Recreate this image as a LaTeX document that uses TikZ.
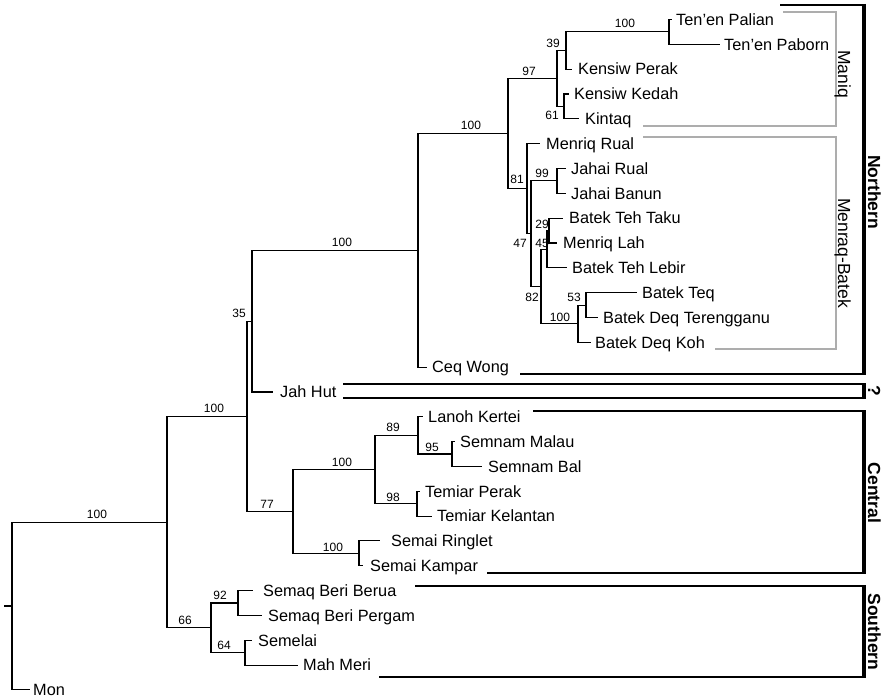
\documentclass[tikz,border=0pt]{standalone}
\usepackage{fontspec}
\setmainfont{Liberation Sans}
\newcommand\taxfont{\fontsize{16.3}{18}\selectfont}
\newcommand\bsfont{\fontsize{12}{14}\selectfont}
\newcommand\grpfont{\fontsize{17.5}{20}\selectfont}
\definecolor{subgray}{gray}{0.68}
\begin{document}
\begin{tikzpicture}[x=1pt,y=-1pt,
  br/.style={line width=1.1pt,line join=miter},
  tx/.style={anchor=base west,inner sep=0pt,font=\taxfont},
  bs/.style={inner sep=0pt,font=\bsfont},
  cl/.style={line width=2pt},
  clbar/.style={line width=4.3pt},
  sub/.style={line width=2.8pt,draw=subgray,line join=miter},
  glab/.style={rotate=-90,anchor=base,inner sep=0pt,font=\grpfont},
  blab/.style={rotate=-90,anchor=base,inner sep=0pt,font=\grpfont\bfseries}]
\useasboundingbox (0,0) rectangle (888,700);

% ---------- leaves (tip coordinate + label) ----------
\coordinate (t0) at (672,19.5);  \node[tx] (l0) at (676,25.3) {Ten’en Palian};
\coordinate (t1) at (720,44.3);  \node[tx] (l1) at (724,50.1) {Ten’en Paborn};
\coordinate (t2) at (572,69.2);  \node[tx] (l2) at (578,75.0) {Kensiw Perak};
\coordinate (t3) at (569,94.0);  \node[tx] (l3) at (574,99.8) {Kensiw Kedah};
\coordinate (t4) at (579,118.8); \node[tx] (l4) at (585,124.6) {Kintaq};
\coordinate (t5) at (540,143.7); \node[tx] (l5) at (546,149.5) {Menriq Rual};
\coordinate (t6) at (566,168.5); \node[tx] (l6) at (571,174.3) {Jahai Rual};
\coordinate (t7) at (566,193.3); \node[tx] (l7) at (571,199.1) {Jahai Banun};
\coordinate (t8) at (563,218.1); \node[tx] (l8) at (569,223.9) {Batek Teh Taku};
\coordinate (t9) at (557,243.0); \node[tx] (l9) at (563,248.8) {Menriq Lah};
\coordinate (t10) at (567,267.8); \node[tx] (l10) at (572,273.6) {Batek Teh Lebir};
\coordinate (t11) at (637,292.6); \node[tx] (l11) at (642,298.4) {Batek Teq};
\coordinate (t12) at (598,317.5); \node[tx] (l12) at (603,323.3) {Batek Deq Terengganu};
\coordinate (t13) at (591,342.3); \node[tx] (l13) at (595,348.1) {Batek Deq Koh};
\coordinate (t14) at (427,367.1); \node[tx] (l14) at (432,372.9) {Ceq Wong};
\coordinate (t15) at (273,392.0); \node[tx] (l15) at (280,397.8) {Jah Hut};
\coordinate (t16) at (423,416.8); \node[tx] (l16) at (428,422.6) {Lanoh Kertei};
\coordinate (t17) at (455,441.6); \node[tx] (l17) at (460,447.4) {Semnam Malau};
\coordinate (t18) at (482,466.4); \node[tx] (l18) at (488,472.2) {Semnam Bal};
\coordinate (t19) at (420,491.3); \node[tx] (l19) at (425,497.1) {Temiar Perak};
\coordinate (t20) at (432,516.1); \node[tx] (l20) at (437,521.9) {Temiar Kelantan};
\coordinate (t21) at (380,540.9); \node[tx] (l21) at (391,546.7) {Semai Ringlet};
\coordinate (t22) at (363,565.8); \node[tx] (l22) at (370,571.6) {Semai Kampar};
\coordinate (t23) at (253,590.6); \node[tx] (l23) at (263,596.4) {Semaq Beri Berua};
\coordinate (t24) at (262,615.4); \node[tx] (l24) at (268,621.2) {Semaq Beri Pergam};
\coordinate (t25) at (252,640.3); \node[tx] (l25) at (258,646.1) {Semelai};
\coordinate (t26) at (298,665.1); \node[tx] (l26) at (303,670.9) {Mah Meri};
\coordinate (t27) at (30,689.9);  \node[tx] (l27) at (33,695.7) {Mon};

% ---------- internal nodes ----------
\coordinate (tenen) at (669,31.9);
\coordinate (n39)   at (566,50.6);
\coordinate (n61)   at (564,106.4);
\coordinate (n97)   at (557,78.5);
\coordinate (n99)   at (557,180.9);
\coordinate (n29)   at (549,230.6);
\coordinate (n45)   at (547,249.2);
\coordinate (n53)   at (586,305.1);
\coordinate (nbat)  at (578,323.7);
\coordinate (n82)   at (541,286.5);
\coordinate (n47)   at (531,233.7);
\coordinate (n81)   at (527,188.7);
\coordinate (nmb)   at (508,133.6);
\coordinate (nnorth) at (418,250.4);
\coordinate (n35)   at (252,321.2);
\coordinate (n95)   at (452,454.0);
\coordinate (n89)   at (418,435.4);
\coordinate (n98)   at (417,503.7);
\coordinate (ncen)  at (375,469.6);
\coordinate (nsemai) at (359,553.4);
\coordinate (n77)   at (293,511.5);
\coordinate (nnc)   at (247,416.4);
\coordinate (n92)   at (238,603.0);
\coordinate (n64)   at (245,652.7);
\coordinate (n66)   at (211,627.9);
\coordinate (nin)   at (167,522.1);
\coordinate (root)  at (12,606.0);
\coordinate (stub)  at (4,606.0);

% ---------- branches ----------
\draw[br] (stub) -- (root);
\foreach \p/\c in {root/nin, root/t27, nin/nnc, nin/n66, nnc/n35, nnc/n77,
  n35/nnorth, n35/t15, nnorth/nmb, nnorth/t14, nmb/n97, nmb/n81,
  n97/n39, n97/n61, n39/tenen, n39/t2, tenen/t0, tenen/t1, n61/t3, n61/t4,
  n81/t5, n81/n47, n47/n99, n47/n82, n99/t6, n99/t7, n82/n45, n82/nbat,
  n45/n29, n45/t10, n29/t8, n29/t9, nbat/n53, nbat/t13, n53/t11, n53/t12,
  n77/ncen, n77/nsemai, ncen/n89, ncen/n98, n89/t16, n89/n95, n95/t17, n95/t18,
  n98/t19, n98/t20, nsemai/t21, nsemai/t22, n66/n92, n66/n64, n92/t23, n92/t24,
  n64/t25, n64/t26}
  \draw[br] (\p) |- (\c);

% ---------- support values ----------
\node[bs] (s1)  at (625,23)  {100};
\node[bs] (s2)  at (553,43)  {39};
\node[bs] (s3)  at (529,71)  {97};
\node[bs] (s4)  at (552,115) {61};
\node[bs] (s5)  at (471,125) {100};
\node[bs] (s6)  at (517,179) {81};
\node[bs] (s7)  at (542,173) {99};
\node[bs] (s8)  at (542,224) {29};
\node[bs] (s9)  at (542,243) {45};
\node[bs] (s10) at (520,243) {47};
\node[bs] (s11) at (532,297) {82};
\node[bs] (s12) at (574,297) {53};
\node[bs] (s13) at (560,317) {100};
\node[bs] (s14) at (342,242) {100};
\node[bs] (s15) at (239,313) {35};
\node[bs] (s16) at (214,408) {100};
\node[bs] (s17) at (267,504) {77};
\node[bs] (s18) at (342,462) {100};
\node[bs] (s19) at (393,427) {89};
\node[bs] (s20) at (432,447) {95};
\node[bs] (s21) at (393,497) {98};
\node[bs] (s22) at (333,547) {100};
\node[bs] (s23) at (97,514)  {100};
\node[bs] (s24) at (185,620) {66};
\node[bs] (s25) at (220,595) {92};
\node[bs] (s26) at (224,645) {64};

% ---------- sub-group brackets (grey) ----------
\draw[sub] (783,12) -| (836,126) -- (643,126);
\draw[sub] (643,137) -| (836,349) -- (715,349);
\node[glab] (maniq)  at (838,74)  {Maniq};
\node[glab] (menraq) at (838,253) {Menraq-Batek};

% ---------- group brackets (black) ----------
\draw[cl] (780,5) -- (865,5);
\draw[cl] (520,374) -- (865,374);
\draw[clbar] (864,4) -- (864,375);
\draw[cl] (343,384) -- (865,384);
\draw[cl] (343,398) -- (865,398);
\draw[clbar] (864,383) -- (864,399);
\draw[cl] (533,411) -- (865,411);
\draw[cl] (487,573) -- (865,573);
\draw[clbar] (864,410) -- (864,574);
\draw[cl] (415,586) -- (865,586);
\draw[cl] (379,677) -- (865,677);
\draw[clbar] (864,585) -- (864,678);
\node[blab] (north)   at (868,192) {Northern};
\node[blab] (qm)      at (868,391) {?};
\node[blab] (central) at (868,493) {Central};
\node[blab] (south)   at (868,632) {Southern};
\end{tikzpicture}
\end{document}
